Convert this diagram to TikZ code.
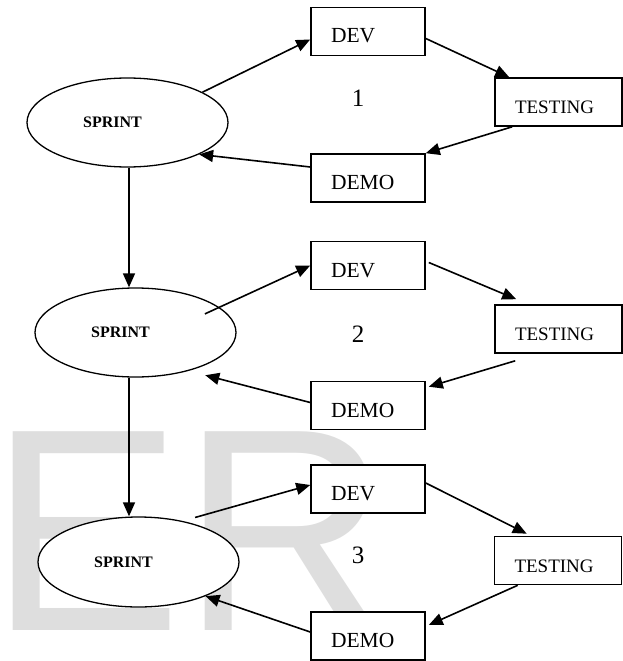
\documentclass[tikz,border=0pt]{standalone}
\usepackage{fontspec}
\usepackage{tikz}
\usetikzlibrary{shapes,arrows.meta,positioning,calc}
\usepackage{xcolor}
\setmainfont{Liberation Serif}
\newfontfamily\markfont{Liberation Sans}
\definecolor{markgray}{RGB}{222,222,222}

\begin{document}
\begin{tikzpicture}[x=1pt,y=-1pt,
        sprint/.style={ellipse,draw,fill=white,line width=1.3pt,minimum width=201pt,minimum height=89pt,inner sep=0pt,font=\fontsize{16}{18}\selectfont\bfseries},
        stage/.style={rectangle,draw,fill=white,line width=1.6pt,minimum height=48pt,text width=74pt,align=left,inner xsep=20pt,text height=23pt,text depth=0pt,font=\fontsize{21.5}{25}\selectfont},
        teststage/.style={stage,text width=87pt,font=\fontsize{19}{22}\selectfont},
        flow/.style={-{Triangle[length=14pt,width=12pt]},line width=1.6pt},
        num/.style={font=\fontsize{25}{29}\selectfont}]
        \useasboundingbox (0,0) rectangle (623,661);

        % watermark
        \node[anchor=base west,inner sep=0pt,text=markgray,font=\markfont\fontsize{289}{289}\selectfont] (mark) at (-11,630) {ER};

        % Sprint 1
        \node[sprint] (sp1) at (127.5,122.5) {SPRINT\hspace*{30pt}};
        \node[stage] (dev1) at (368,31.5) {DEV};
        \node[teststage] (test1) at (558.5,102) {TESTING};
        \node[stage] (demo1) at (368,178) {DEMO};
        \node[num] (num1) at (358,98.5) {1};

        % Sprint 2
        \node[sprint] (sp2) at (135.5,332.5) {SPRINT\hspace*{30pt}};
        \node[stage] (dev2) at (368,265.5) {DEV};
        \node[teststage] (test2) at (558.5,329) {TESTING};
        \node[stage] (demo2) at (368,405.5) {DEMO};
        \node[num] (num2) at (358,334) {2};

        % Sprint 3
        \node[sprint,minimum height=90pt] (sp3) at (138.5,562) {SPRINT\hspace*{30pt}};
        \node[stage] (dev3) at (368,489) {DEV};
        \node[teststage] (test3) at (558,560.5) {TESTING};
        \node[stage] (demo3) at (368,636) {DEMO};
        \node[num] (num3) at (358,555) {3};

        % cycle 1
        \draw[flow] (sp1.22) -- ([yshift=-8pt]dev1.west);
        \draw[flow] ([yshift=-7pt]dev1.east) -- ([xshift=15pt]test1.north west);
        \draw[flow] ([xshift=18pt]test1.south west) -- (demo1.north east);
        \draw[flow] ([yshift=11pt]demo1.west) -- (sp1.-24);
        \draw[flow] ([xshift=1.5pt]sp1.south) -- ([xshift=1.5pt]sp1.south |- sp2.north);

        % cycle 2
        \draw[flow] ($(sp2)!.8!(sp2.15)$) -- (dev2.west);
        \draw[flow] ([shift={(3pt,3pt)}]dev2.east) -- ([shift={(22pt,5pt)}]test2.north west);
        \draw[flow] ([shift={(21pt,-7pt)}]test2.south west) -- ([shift={(3pt,-6pt)}]demo2.north east);
        \draw[flow] ([yshift=3pt]demo2.west) -- ([shift={(11pt,-6pt)}]sp2.-32);
        \draw[flow] ([xshift=-6.5pt]sp2.south) -- ([xshift=-6.5pt]sp2.south |- sp3.north);

        % cycle 3
        \draw[flow] ([shift={(6pt,5pt)}]sp3.38) -- ([yshift=4pt]dev3.west);
        \draw[flow] ([yshift=6pt]dev3.east) -- ([shift={(33pt,2pt)}]test3.north west);
        \draw[flow] ([xshift=24pt]test3.south west) -- ([shift={(3pt,11pt)}]demo3.east);
        \draw[flow] ([yshift=4pt]demo3.west) -- (sp3.-27);
    \end{tikzpicture}
\end{document}
